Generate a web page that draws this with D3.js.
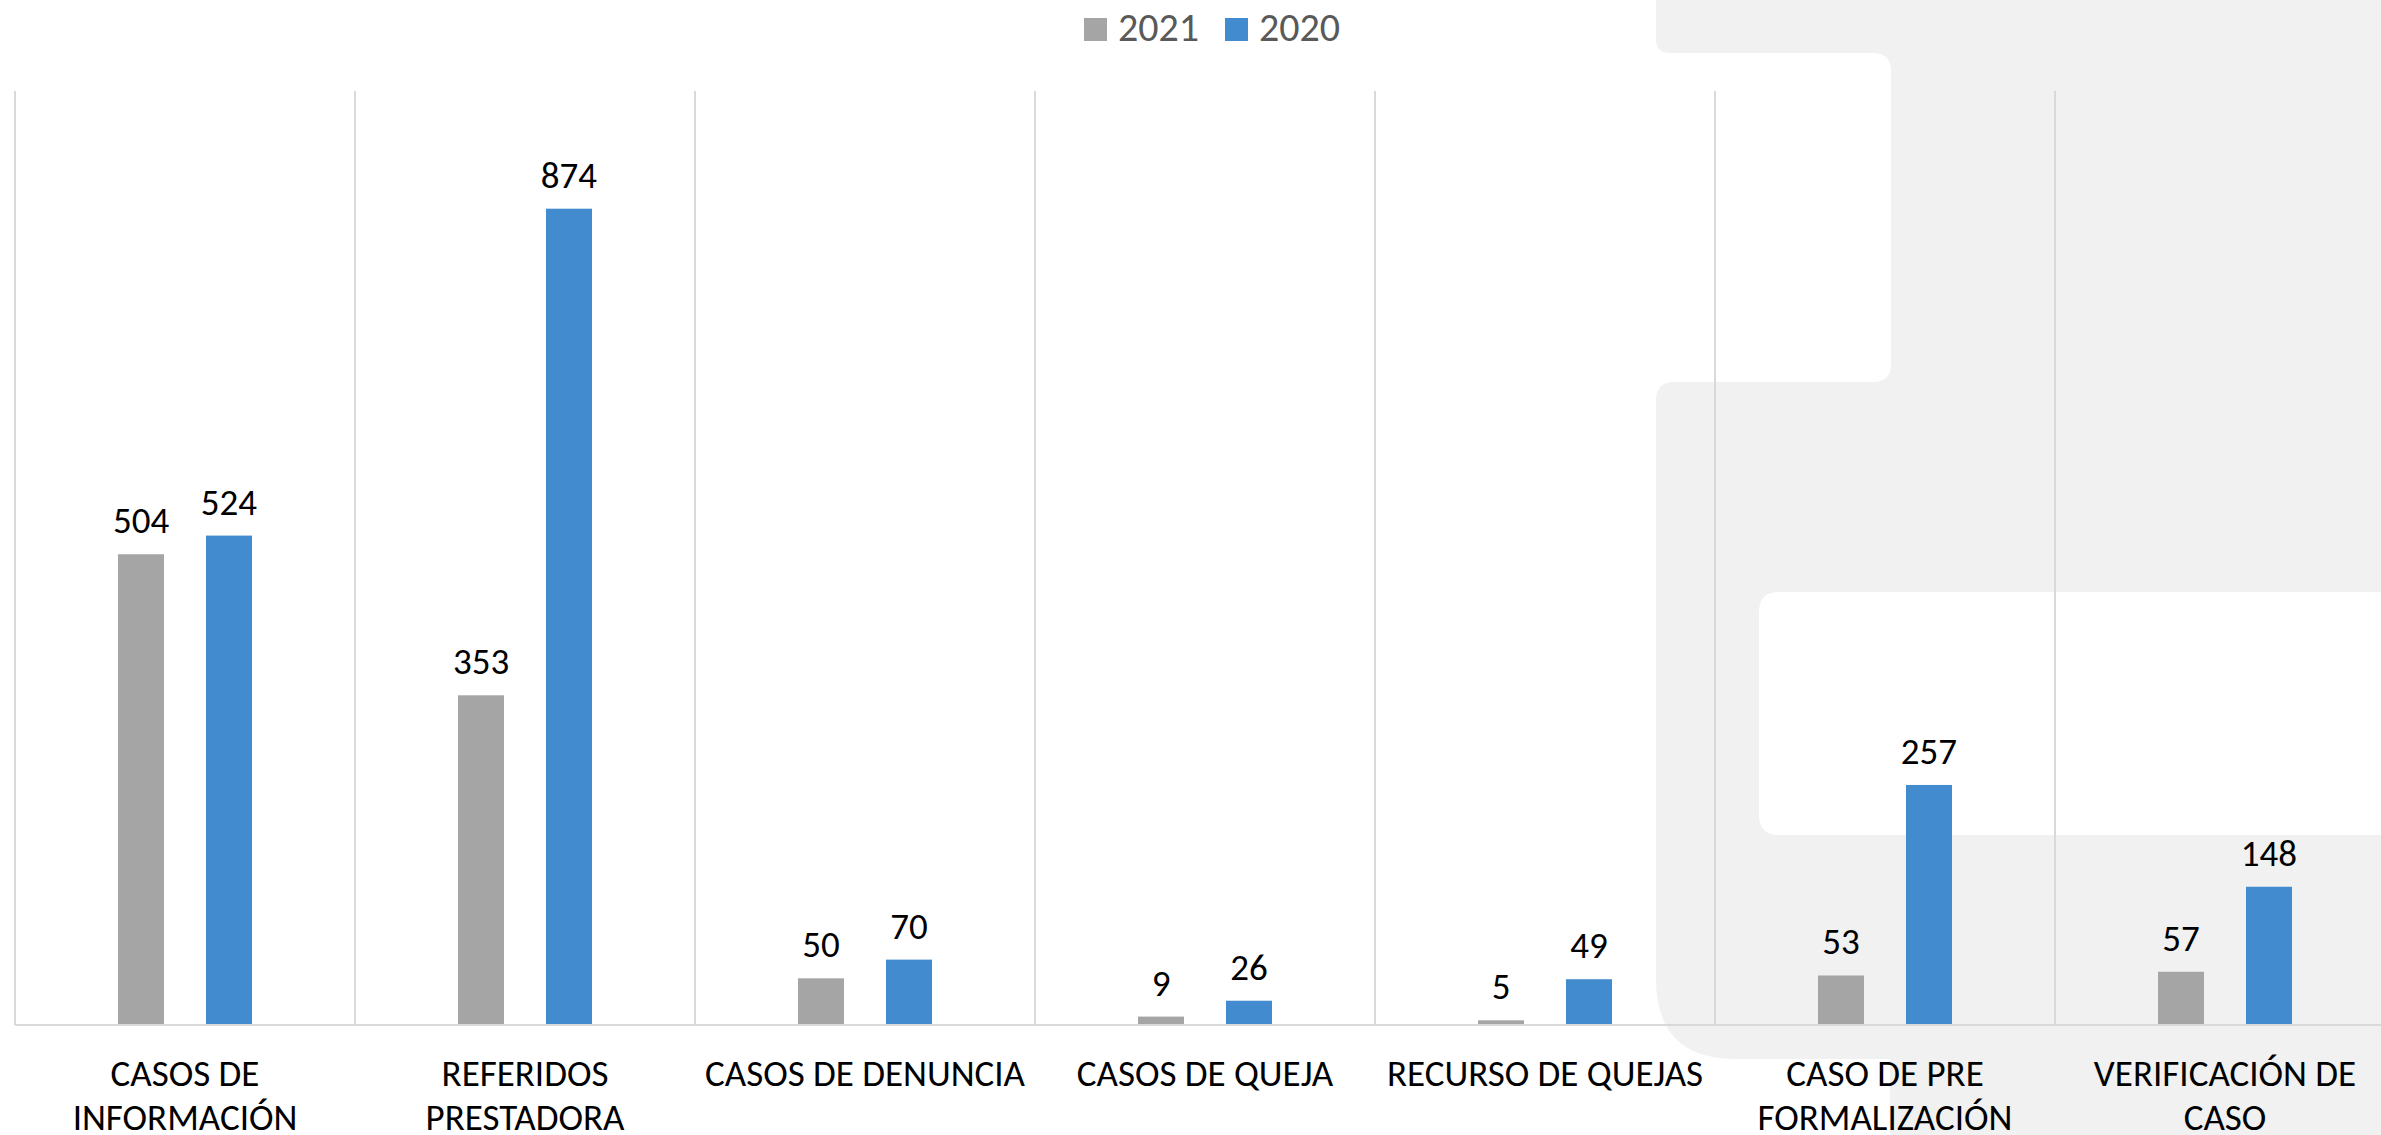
<!DOCTYPE html>
<html>
<head>
<meta charset="utf-8">
<script src="https://cdn.jsdelivr.net/npm/d3@7"></script>
<style>
    html, body { margin: 0; padding: 0; background: #ffffff; overflow: hidden; }
    svg { display: block; }
    text { font-family: Calibri, Carlito, Lato, "Open Sans", sans-serif; }
</style>
</head>
<body>
<svg id="chart" width="2381" height="1135"></svg>
<script>
// Data
const categories = [
    "CASOS DE\nINFORMACIÓN",
    "REFERIDOS\nPRESTADORA",
    "CASOS DE DENUNCIA",
    "CASOS DE QUEJA",
    "RECURSO DE QUEJAS",
    "CASO DE PRE\nFORMALIZACIÓN",
    "VERIFICACIÓN DE\nCASO"
];
const seriesNames = ["2021", "2020"];
const values2021 = [504, 353, 50, 9, 5, 53, 57];
const values2020 = [524, 874, 70, 26, 49, 257, 148];
const seriesColors = ["#a5a5a5", "#428bce"];

// Size settings
const width = 2381;
const height = 1135;
const margin = {top: 91, left: 15, bottom: 110};
const plotRight = 2395; // plot area runs past the right edge of the picture
const baseY = height - margin.bottom;

const svg = d3.select("#chart");

// Background decoration (light grey logo shape on the right)
svg.append("path")
    .attr("fill", "#f0f1f0")
    .attr("d", [
        "M1656,0 H2381 V592 H1779 Q1759,592 1759,612 V815 Q1759,835 1779,835 H2381 V1135",
        "H1890 V1059 H1736 Q1656,1059 1656,979 V400 Q1656,382 1674,382 H1873 Q1891,382 1891,364",
        "V71 Q1891,53 1873,53 H1670 Q1656,53 1656,39 Z"
    ].join(" "));

// Scales
const x0 = d3.scaleBand().domain(d3.range(categories.length)).range([margin.left, plotRight]).padding(0);
const bw = x0.bandwidth();
const x1 = d3.scaleBand().domain(seriesNames).range([bw / 2 - 67, bw / 2 + 67]).paddingInner(0.477);
const y = d3.scaleLinear().domain([0, 1000]).range([baseY, margin.top]);

const data = categories.map((c, i) => ({
    index: i,
    values: [values2021[i], values2020[i]]
}));

// Vertical gridlines (category separators)
const gridX = d3.range(categories.length + 1).map(i => i < categories.length ? x0(i) : plotRight);
svg.append("g")
    .selectAll("line")
    .data(gridX)
    .enter().append("line")
    .attr("x1", d => d).attr("x2", d => d)
    .attr("y1", margin.top).attr("y2", baseY)
    .attr("stroke", "#d9d9d9")
    .attr("stroke-width", 2);

// Bars
const groups = svg.append("g")
    .selectAll("g")
    .data(data)
    .enter().append("g")
    .attr("transform", d => `translate(${x0(d.index)},0)`);

groups.selectAll("rect")
    .data(d => d.values.map((v, k) => ({name: seriesNames[k], value: v, k: k})))
    .enter().append("rect")
    .attr("x", d => x1(d.name))
    .attr("width", x1.bandwidth())
    .attr("y", d => y(d.value))
    .attr("height", d => baseY - y(d.value))
    .attr("fill", d => seriesColors[d.k]);

// Value labels
groups.selectAll("text.value")
    .data(d => d.values.map((v, k) => ({name: seriesNames[k], value: v})))
    .enter().append("text")
    .attr("class", "value")
    .attr("x", d => x1(d.name) + x1.bandwidth() / 2)
    .attr("y", d => y(d.value) - 21)
    .attr("text-anchor", "middle")
    .attr("font-size", 37)
    .attr("fill", "#000000")
    .text(d => d.value);

// Category axis
const xAxis = svg.append("g")
    .attr("transform", `translate(0,${baseY})`)
    .call(d3.axisBottom(x0).tickSize(0).tickFormat(""));
xAxis.select(".domain")
    .attr("d", `M${margin.left},0H${plotRight}`)
    .attr("stroke", "#d9d9d9")
    .attr("stroke-width", 2);

xAxis.selectAll(".tick").each(function(i) {
    const lines = categories[i].split("\n");
    const t = d3.select(this).append("text")
        .attr("text-anchor", "middle")
        .attr("font-size", 37)
        .attr("fill", "#000000");
    lines.forEach((ln, j) => {
        t.append("tspan")
            .attr("x", 0)
            .attr("y", 61 + j * 44)
            .text(ln);
    });
});

// Legend
const legendX = [1084, 1225];
const legend = svg.append("g")
    .selectAll("g")
    .data(seriesNames)
    .enter().append("g")
    .attr("transform", (d, i) => `translate(${legendX[i]},18)`);
legend.append("rect")
    .attr("width", 23)
    .attr("height", 23)
    .attr("fill", (d, i) => seriesColors[i]);
legend.append("text")
    .attr("x", 34)
    .attr("y", 23)
    .attr("font-size", 40)
    .attr("fill", "#595959")
    .text(d => d);
</script>
</body>
</html>
